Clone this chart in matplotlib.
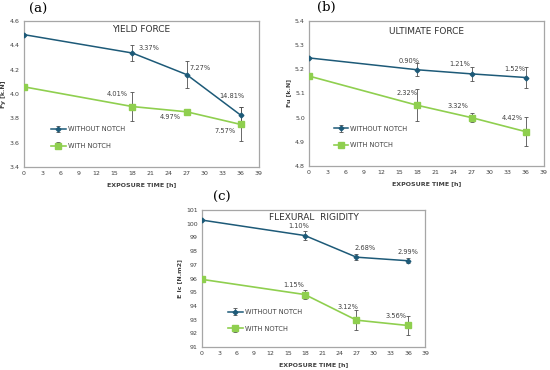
import matplotlib.pyplot as plt
import numpy as np

# exposure time [h]
hours = [0, 18, 27, 36]

# (a) yield force
fy_plain = [4.488, 4.337, 4.160, 3.826]
fy_plain_err = [0, 0.062, 0.112, 0.066]
fy_notch = [4.059, 3.897, 3.854, 3.750]
fy_notch_err = [0, 0.120, 0.010, 0.140]
fy_plain_lbl = ["", "3.37%", "7.27%", "14.81%"]
fy_notch_lbl = ["", "4.01%", "4.97%", "7.57%"]

# (b) ultimate force
fu_plain = [5.247, 5.198, 5.181, 5.166]
fu_plain_err = [0, 0.026, 0.030, 0.043]
fu_notch = [5.172, 5.051, 5.000, 4.942]
fu_notch_err = [0, 0.066, 0.020, 0.060]
fu_plain_lbl = ["", "0.90%", "1.21%", "1.52%"]
fu_notch_lbl = ["", "2.32%", "3.32%", "4.42%"]

# (c) flexural rigidity
ei_plain = [100.27, 99.14, 97.56, 97.30]
ei_plain_err = [0, 0.33, 0.22, 0.20]
ei_notch = [95.94, 94.83, 92.96, 92.57]
ei_notch_err = [0, 0.34, 0.75, 0.67]
ei_plain_lbl = ["", "1.10%", "2.68%", "2.99%"]
ei_notch_lbl = ["", "1.15%", "3.12%", "3.56%"]

BLUE = "#1d5a78"
GREEN = "#8fcf4f"
FRAME = "#a6a6a6"
TXT = "#404040"


def panel(ax, tag, tag_xy, title, ylabel, ylim, yticks, plain, perr, notch,
          nerr, plbl, nlbl, poff, noff, title_y, leg_xy):
    ax.errorbar(hours, plain, yerr=perr, color=BLUE, marker="D", ms=2.4,
                lw=1.1, ecolor="#505050", elinewidth=0.6, capsize=1.2,
                capthick=0.6, label="WITHOUT NOTCH", zorder=3)
    ax.errorbar(hours, notch, yerr=nerr, color=GREEN, marker="s", ms=4.5,
                lw=1.2, ecolor="#505050", elinewidth=0.6, capsize=1.2,
                capthick=0.6, label="WITH NOTCH", zorder=3)
    for x, y, s, o in zip(hours, plain, plbl, poff):
        if s:
            ax.text(x + o[0], y + o[1], s, fontsize=4.8, color=TXT,
                    ha="center", va="center")
    for x, y, s, o in zip(hours, notch, nlbl, noff):
        if s:
            ax.text(x + o[0], y + o[1], s, fontsize=4.8, color=TXT,
                    ha="center", va="center")
    ax.set_xlim(0, 39)
    ax.set_xticks(np.arange(0, 40, 3))
    ax.set_ylim(*ylim)
    ax.set_yticks(yticks)
    ax.tick_params(length=0, labelsize=4.5, labelcolor=TXT, pad=3)
    for sp in ax.spines.values():
        sp.set_color(FRAME)
        sp.set_linewidth(0.9)
    ax.set_xlabel("EXPOSURE TIME [h]", fontsize=4.5, fontweight="bold",
                  color=TXT, labelpad=4)
    ax.set_ylabel(ylabel, fontsize=4.5, fontweight="bold", color=TXT,
                  labelpad=3)
    ax.text(0.5, title_y, title, transform=ax.transAxes, fontsize=6.5,
            color="#303030", ha="center", va="center")
    ax.text(tag_xy[0], tag_xy[1], tag, transform=ax.transAxes, fontsize=9.5,
            family="DejaVu Serif", ha="left", va="center")
    ax.legend(loc="center left", bbox_to_anchor=leg_xy, frameon=False,
              fontsize=4.8, labelspacing=1.6, handlelength=2.2,
              handletextpad=0.3, labelcolor=TXT)


fig = plt.figure(figsize=(5.5, 3.7), dpi=100)

ax_a = fig.add_axes([0.0436, 0.5486, 0.427, 0.3946])
panel(ax_a, "(a)", (0.02, 1.08), "YIELD FORCE", "Fy [k.N]", (3.4, 4.6),
      np.arange(3.4, 4.61, 0.2).round(1),
      fy_plain, fy_plain_err, fy_notch, fy_notch_err,
      fy_plain_lbl, fy_notch_lbl,
      [(0, 0), (2.8, 0.045), (2.3, 0.055), (-1.5, 0.155)],
      [(0, 0), (-2.6, 0.105), (-2.7, -0.045), (-2.6, -0.05)],
      0.94, (0.09, 0.20))

ax_b = fig.add_axes([0.5618, 0.5514, 0.427, 0.392])
panel(ax_b, "(b)", (0.034, 1.09), "ULTIMATE FORCE", "Fu [k.N]", (4.8, 5.4),
      np.arange(4.8, 5.41, 0.1).round(1),
      fu_plain, fu_plain_err, fu_notch, fu_notch_err,
      fu_plain_lbl, fu_notch_lbl,
      [(0, 0), (-1.4, 0.036), (-1.9, 0.039), (-1.8, 0.034)],
      [(0, 0), (-1.8, 0.049), (-2.2, 0.049), (-2.2, 0.056)],
      0.928, (0.08, 0.20))

ax_c = fig.add_axes([0.367, 0.0622, 0.406, 0.370])
panel(ax_c, "(c)", (0.05, 1.095), "FLEXURAL  RIGIDITY", "E Ic [N.m2]",
      (91, 101), np.arange(91, 102, 1),
      ei_plain, ei_plain_err, ei_notch, ei_notch_err,
      ei_plain_lbl, ei_notch_lbl,
      [(0, 0), (-1.0, 0.70), (1.5, 0.65), (0, 0.67)],
      [(0, 0), (-2.0, 0.72), (-1.5, 0.97), (-2.0, 0.68)],
      0.947, (0.09, 0.195))

fig.savefig("out.png", dpi=100)
